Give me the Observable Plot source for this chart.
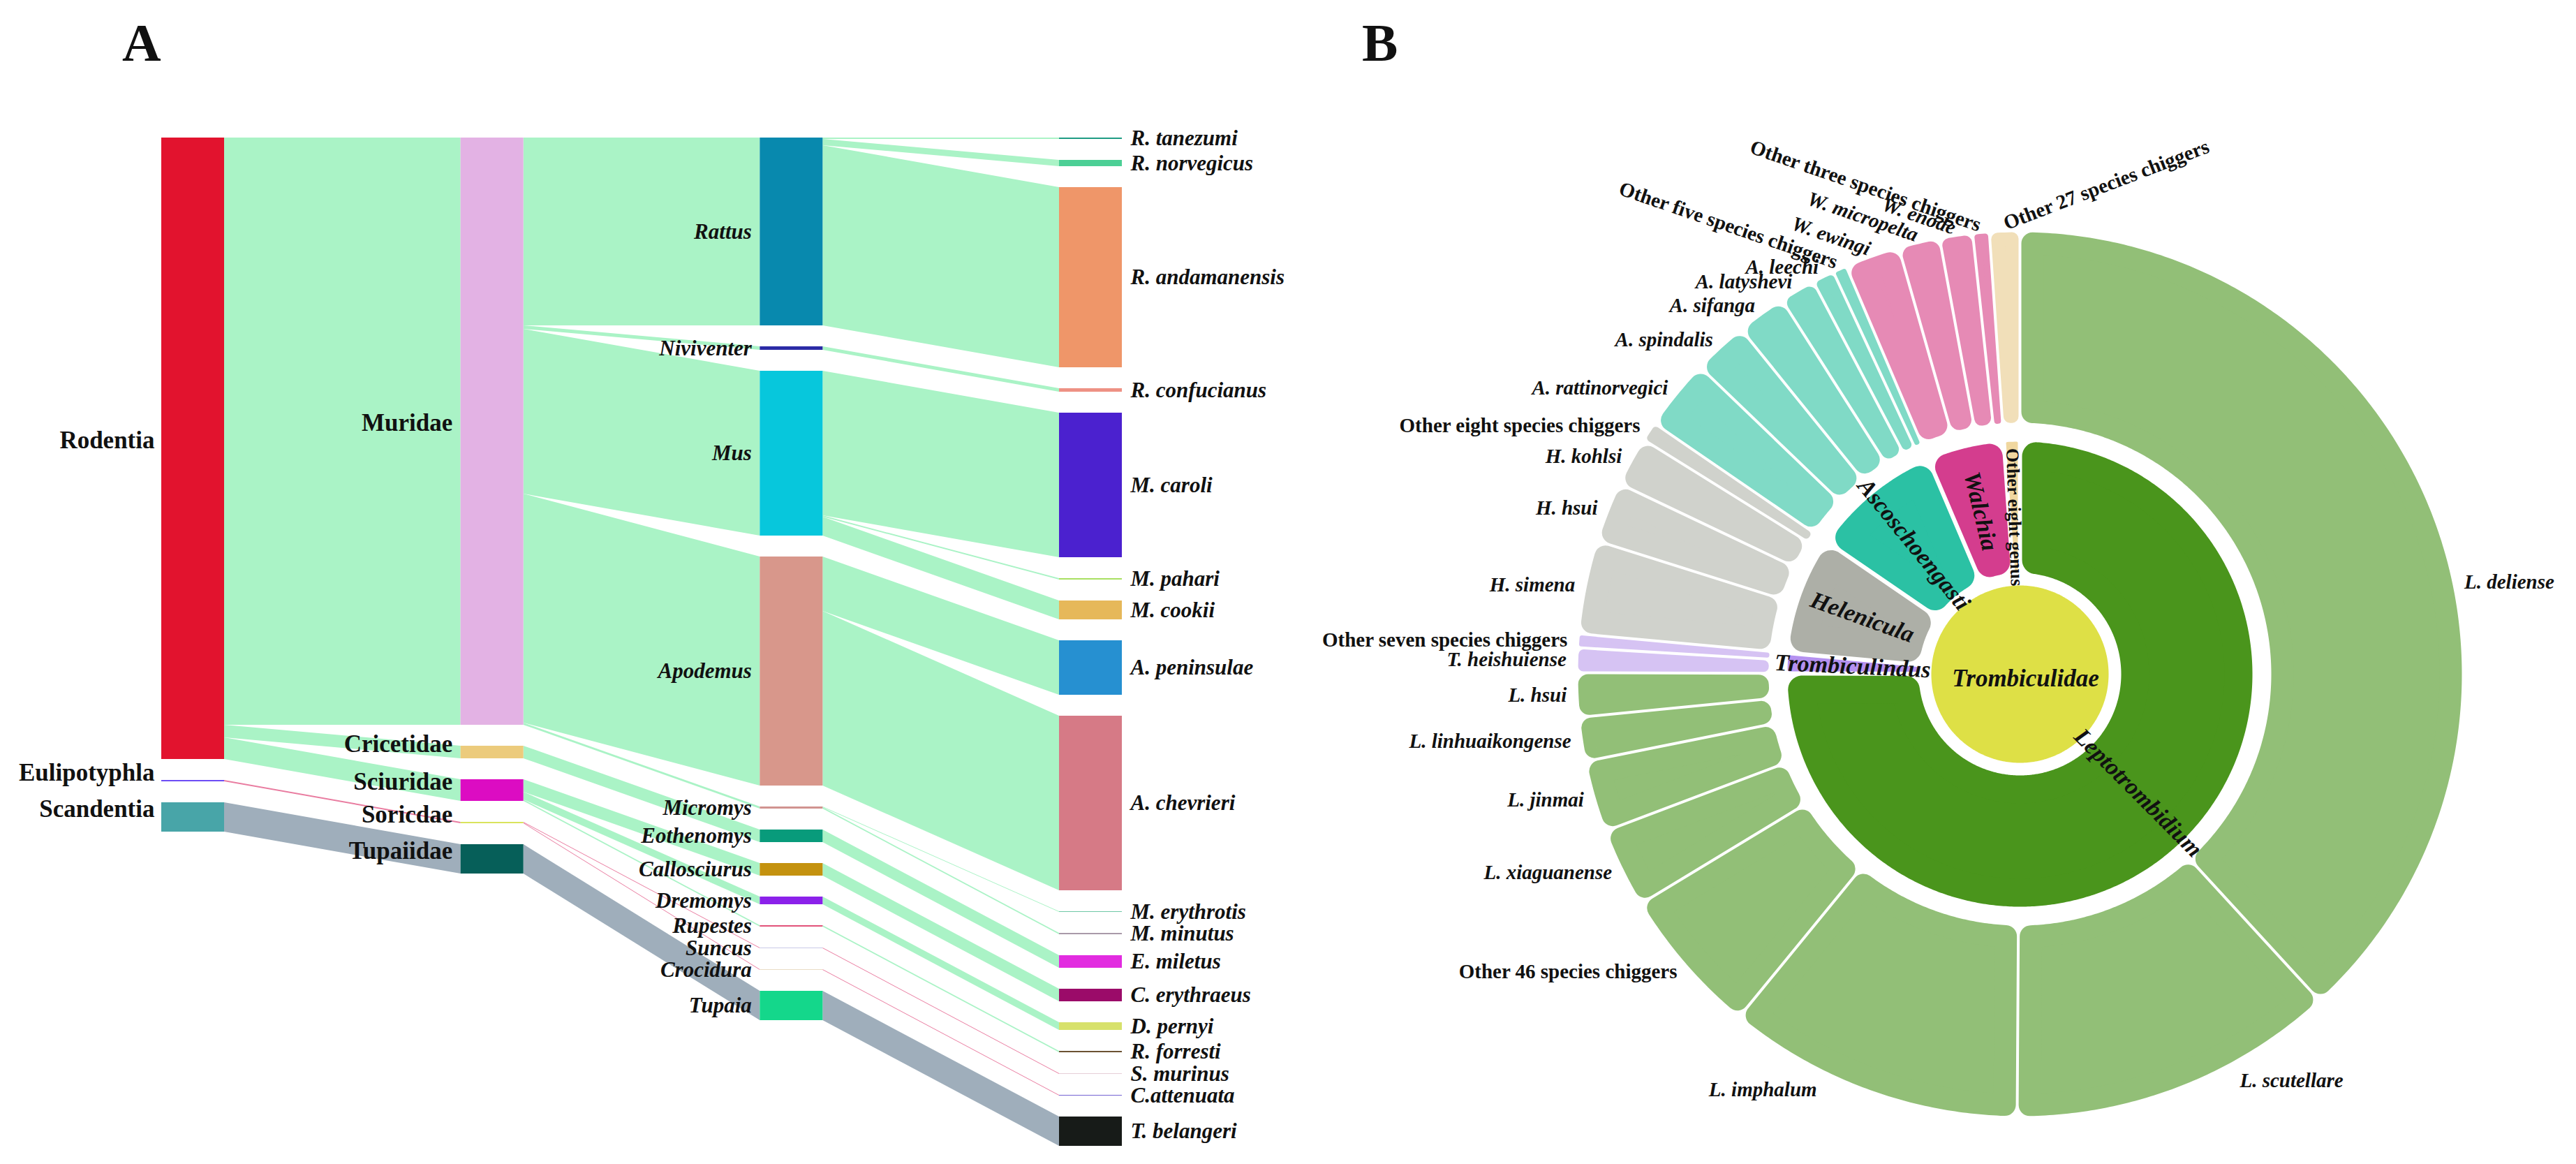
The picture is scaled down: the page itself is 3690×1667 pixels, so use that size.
<!DOCTYPE html>
<html><head><meta charset="utf-8">
<script src="https://cdn.jsdelivr.net/npm/d3@7"></script>
<script src="https://cdn.jsdelivr.net/npm/@observablehq/plot@0.6"></script>
<style>
body{margin:0;background:#fff;}
#wrap{position:relative;width:3690px;height:1667px;overflow:hidden;font-family:"Liberation Serif","Times New Roman",serif;}
.letter{position:absolute;font-weight:bold;font-size:77px;line-height:1;color:#111;}
.panel{position:absolute;top:0;}
</style></head><body>
<div id="wrap">
  <div class="letter" style="left:175px;top:23px">A</div>
  <div class="letter" style="left:1951px;top:23px">B</div>
</div>
<script>
// ================= DATA: panel A (hosts) =================
const orders = ["Rodentia","Eulipotyphla","Scandentia"];
const families = ["Muridae","Cricetidae","Sciuridae","Soricdae","Tupaiidae"];
const familyOrder = ["Rodentia","Rodentia","Rodentia","Eulipotyphla","Scandentia"];
const genera = ["Rattus","Niviventer","Mus","Apodemus","Micromys","Eothenomys","Callosciurus","Dremomys","Rupestes","Suncus","Crocidura","Tupaia"];
const genusFamily = ["Muridae","Muridae","Muridae","Muridae","Muridae","Cricetidae","Sciuridae","Sciuridae","Sciuridae","Soricdae","Soricdae","Tupaiidae"];
const hostSpecies = ["R. tanezumi","R. norvegicus","R. andamanensis","R. confucianus","M. caroli","M. pahari","M. cookii","A. peninsulae","A. chevrieri","M. erythrotis","M. minutus","E. miletus","C. erythraeus","D. pernyi","R. forresti","S. murinus","C.attenuata","T. belangeri"];
const speciesGenus = ["Rattus","Rattus","Rattus","Niviventer","Mus","Mus","Mus","Apodemus","Apodemus","Micromys","Micromys","Eothenomys","Callosciurus","Dremomys","Rupestes","Suncus","Crocidura","Tupaia"];
const speciesCount = [2,9,258,5,207,2,27,78,250,1,2,18,18,11,2,1,1,42];

// ================= DATA: panel B (chiggers) =================
const chiggerGenera = ["Leptotrombidium","Trombiculindus","Helenicula","Ascoschoengasti","Walchia","Other eight genus"];
const chiggerSpecies = ["L. deliense","L. scutellare","L. imphalum","Other 46 species chiggers","L. xiaguanense","L. jinmai","L. linhuaikongense","L. hsui",
  "T. heishuiense","Other seven species chiggers",
  "H. simena","H. hsui","H. kohlsi","Other eight species chiggers",
  "A. rattinorvegici","A. spindalis","A. sifanga","A. latyshevi","A. leechi","Other five species chiggers",
  "W. ewingi","W. micropelta","W. enode","Other three species chiggers",
  "Other 27 species chiggers"];
const chiggerSpeciesGenus = ["Leptotrombidium","Leptotrombidium","Leptotrombidium","Leptotrombidium","Leptotrombidium","Leptotrombidium","Leptotrombidium","Leptotrombidium",
  "Trombiculindus","Trombiculindus",
  "Helenicula","Helenicula","Helenicula","Helenicula",
  "Ascoschoengasti","Ascoschoengasti","Ascoschoengasti","Ascoschoengasti","Ascoschoengasti","Ascoschoengasti",
  "Walchia","Walchia","Walchia","Walchia",
  "Other eight genus"];
const chiggerShare = [38.1,11.9,10.8,5.4,2.9,2.6,1.6,1.6, 0.9,0.5, 3.4,2.2,1.8,0.7, 2.6,2.0,1.8,1.3,0.8,0.5, 2.0,1.5,1.2,0.6, 1.1];
const centerLabel = "Trombiculidae";

// ================= STYLES =================
const serif = '"Liberation Serif","Times New Roman",Times,serif';
const nodeColor = {
  "Rodentia":"#e2132e","Eulipotyphla":"#6c4cf5","Scandentia":"#48a5a8",
  "Muridae":"#e3b2e4","Cricetidae":"#eccb7c","Sciuridae":"#dc0cc2","Soricdae":"#d9e45c","Tupaiidae":"#065f59",
  "Rattus":"#0889ae","Niviventer":"#2b2ba6","Mus":"#07c7dc","Apodemus":"#d8978b","Micromys":"#d19490","Eothenomys":"#089b7b",
  "Callosciurus":"#c4920f","Dremomys":"#8b21ea","Rupestes":"#e2527a","Suncus":"#c9c9e6","Crocidura":"#eadcc6","Tupaia":"#14d78b",
  "R. tanezumi":"#1e9c83","R. norvegicus":"#4ccf95","R. andamanensis":"#ef9669","R. confucianus":"#ee9184","M. caroli":"#4b21cf",
  "M. pahari":"#a9e062","M. cookii":"#e6b85a","A. peninsulae":"#2690d1","A. chevrieri":"#d67a86","M. erythrotis":"#6fc7a6",
  "M. minutus":"#a99aa9","E. miletus":"#e22ce0","C. erythraeus":"#9b0b69","D. pernyi":"#d7e16b","R. forresti":"#6b5232",
  "S. murinus":"#e6cfd7","C.attenuata":"#7363d3","T. belangeri":"#171b18"
};
const linkColor = {"Rodentia":"#aaf3c6","Eulipotyphla":"#e97ca0","Scandentia":"#9faebb"};
const genusFill = {"Leptotrombidium":"#4a951c","Trombiculindus":"#b591f0","Helenicula":"#adafa7","Ascoschoengasti":"#2bc1a4","Walchia":"#d43d8e","Other eight genus":"#f0d79f"};
const speciesFill = {"Leptotrombidium":"#92bf77","Trombiculindus":"#d6c3f3","Helenicula":"#d0d2cc","Ascoschoengasti":"#80dac6","Walchia":"#e68ab5","Other eight genus":"#f1dfb9"};
const discFill = "#dee046";

const wrap = document.getElementById("wrap");

// ================= PANEL A: Sankey =================
(function(){
  const gap = 30, barW = 90/428.667;
  const columns = [orders, families, genera, hostSpecies];
  const parentOf = new Map();
  families.forEach((f,i)=>parentOf.set(f, familyOrder[i]));
  genera.forEach((g,i)=>parentOf.set(g, genusFamily[i]));
  hostSpecies.forEach((s,i)=>parentOf.set(s, speciesGenus[i]));
  const value = new Map(hostSpecies.map((s,i)=>[s, speciesCount[i]]));
  for (const col of [genera, families, orders]) for (const n of col) value.set(n, 0);
  for (let c=3;c>=1;c--) for (const n of columns[c]) { const p=parentOf.get(n); value.set(p, value.get(p)+value.get(n)); }
  const rootOf = n => { while(parentOf.has(n)) n = parentOf.get(n); return n; };
  const nodes = [];
  columns.forEach((col,c)=>{ let y=0; col.forEach(name=>{ const v=value.get(name); nodes.push({name,c,v,y0:y,y1:y+v,ym:y+v/2,color:nodeColor[name]}); y+=v+gap; }); });
  const nodeBy = new Map(nodes.map(d=>[d.name,d]));
  const ySpan = d3.max(nodes, d=>d.y1);
  const out = new Map(), linkPts = [];
  nodes.filter(d=>d.c>0).forEach(t=>{
    const s = nodeBy.get(parentOf.get(t.name));
    const o = out.get(s.name)||0; out.set(s.name, o+t.v);
    const color = linkColor[rootOf(t.name)];
    linkPts.push({id:t.name, x:s.c+barW, ya:s.y0+o, yb:s.y0+o+t.v, color});
    linkPts.push({id:t.name, x:t.c, ya:t.y0, yb:t.y1, color});
  });
  const lab = (c, o) => Plot.text(nodes.filter(d=>d.c===c), Object.assign({
    x: d => c===3 ? d.c+barW : d.c, y:"ym", text:"name", fontFamily:serif, fontWeight:"bold", fill:"#111"}, o));
  const svg = Plot.plot({
    width:1900, height:1667, margin:0,
    style:{background:"transparent", overflow:"visible"},
    x:{domain:[0,3], range:[231,1517], axis:null},
    y:{domain:[0,ySpan], range:[197,197+ySpan], axis:null},
    color:{type:"identity"},
    marks:[
      Plot.area(linkPts, {x1:"x", y1:"ya", y2:"yb", z:"id", fill:"color", curve:"linear"}),
      Plot.rect(nodes, {x1:"c", x2:d=>d.c+barW, y1:"y0", y2:"y1", fill:"color"}),
      lab(0, {textAnchor:"end", dx:-10, dy:-12, fontSize:35}),
      lab(1, {textAnchor:"end", dx:-12, dy:-12, fontSize:35}),
      lab(2, {textAnchor:"end", dx:-12, fontSize:31, fontStyle:"italic"}),
      lab(3, {textAnchor:"start", dx:12, fontSize:31, fontStyle:"italic"})
    ]
  });
  svg.classList.add("panel"); svg.style.left = "0px";
  wrap.appendChild(svg);
})();

// ================= PANEL B: Sunburst =================
(function(){
  const R = {disc:127, g0:145, g1:333, s0:360, s1:633};
  const tot = d3.sum(chiggerShare);
  let acc = 0;
  const sp = chiggerSpecies.map((name,i)=>{ const a0=acc/tot*360; acc+=chiggerShare[i]; const a1=acc/tot*360;
    return {name, genus:chiggerSpeciesGenus[i], a0, a1, mid:(a0+a1)/2}; });
  const gen = chiggerGenera.map(g=>{ const s=sp.filter(d=>d.genus===g); const a0=s[0].a0, a1=s[s.length-1].a1; return {name:g,a0,a1,mid:(a0+a1)/2}; });
  const rad = Math.PI/180;
  const polar = (r, deg) => ({x: r*Math.sin(deg*rad), y: -r*Math.cos(deg*rad)});

  function sector(a0, a1, r0, r1, pad, c){
    const A0=a0*rad, A1=a1*rad, half=(A1-A0)/2;
    const wIn = r0*Math.sin(Math.min(half, Math.PI/2)) - pad/2;
    const ce = Math.max(0.3, Math.min(c, (r1-r0)/2-0.5, wIn*0.9));
    const d = pad/2 + ce, Ri = r0+ce, Ro = r1-ce;
    let o0=A0+Math.asin(Math.min(1,d/Ro)), o1=A1-Math.asin(Math.min(1,d/Ro));
    let i0=A0+Math.asin(Math.min(1,d/Ri)), i1=A1-Math.asin(Math.min(1,d/Ri));
    if (i1<i0){ i0=i1=(A0+A1)/2; }
    if (o1<o0){ o0=o1=(A0+A1)/2; }
    const pts=[];
    const arc=(r,f,t)=>{ const n=Math.max(1,Math.ceil(Math.abs(t-f)/(Math.PI/360))); for(let k=0;k<=n;k++){ const a=f+(t-f)*k/n; pts.push({x:r*Math.sin(a), y:-r*Math.cos(a)}); } };
    arc(Ro,o0,o1); arc(Ri,i1,i0);
    return {pts, ce};
  }
  const sectorMark = (s, fill) => Plot.line(s.pts, {x:"x", y:"y", fill, stroke:fill, strokeWidth:2*s.ce, strokeLinejoin:"round", curve:"linear-closed"});

  const marks = [];
  const disc = d3.range(0,360,1).map(a=>polar(R.disc,a));
  marks.push(Plot.line(disc, {x:"x", y:"y", fill:discFill, stroke:"none", curve:"linear-closed"}));
  gen.forEach(g=>marks.push(sectorMark(sector(g.a0,g.a1,R.g0,R.g1,6,20), genusFill[g.name])));
  sp.forEach(s=>marks.push(sectorMark(sector(s.a0,s.a1,R.s0,R.s1,4,16), speciesFill[s.genus])));

  // genus labels (radial)
  const gl = gen.map(g=>{ const r = g.name==="Other eight genus" ? 225 : 240; const p=polar(r,g.mid);
    return {...p, name:g.name, rot: g.mid<180 ? g.mid-90 : g.mid-270}; });
  marks.push(Plot.text(gl.filter(d=>d.name!=="Other eight genus"), {x:"x", y:"y", text:"name", rotate:"rot", fontFamily:serif, fontWeight:"bold", fontStyle:"italic", fontSize:34, fill:"#111"}));
  marks.push(Plot.text(gl.filter(d=>d.name==="Other eight genus"), {x:"x", y:"y", text:"name", rotate:"rot", fontFamily:serif, fontWeight:"bold", fontSize:26, fill:"#111"}));
  marks.push(Plot.text([{x:0,y:0,name:centerLabel}], {x:"x", y:"y", text:"name", dx:8, dy:6, fontFamily:serif, fontWeight:"bold", fontStyle:"italic", fontSize:35, fill:"#111"}));

  // species labels
  const group = m => m>=356 ? "topR" : m>=335 ? "topL" : m>=225 ? "left" : m>=135 ? "bottom" : "right";
  const sl = sp.map(s=>{
    const g = group(s.mid);
    let ang = s.mid, r = 650, rot = 0;
    if (g==="topL"){ r=645; rot=19; }
    if (g==="topR"){ r=645; rot=-21; }
    if (g==="right"){ ang = s.mid + (90-s.mid)*0.45; }
    if (g==="bottom"){ ang = 180 + (s.mid-180)*1.6; r = 700; }
    return {...polar(r,ang), name:s.name, g, rot, other:s.name.startsWith("Other")};
  });
  const anchor = {left:"end", topL:"end", topR:"start", right:"start", bottom:"middle"};
  for (const g of Object.keys(anchor)) for (const other of [true,false]) {
    const data = sl.filter(d=>d.g===g && d.other===other);
    if (!data.length) continue;
    marks.push(Plot.text(data, {x:"x", y:"y", text:"name", rotate:"rot", textAnchor:anchor[g], fontFamily:serif, fontWeight:"bold", fontStyle: other?"normal":"italic", fontSize:29, fill:"#111"}));
  }

  const cx = 993, cy = 965, W = 1790, H = 1667;
  const svg = Plot.plot({
    width:W, height:H, margin:0,
    style:{background:"transparent", overflow:"visible"},
    x:{domain:[-cx, W-cx], range:[0,W], axis:null},
    y:{domain:[-cy, H-cy], range:[0,H], axis:null},
    marks
  });
  svg.classList.add("panel"); svg.style.left = "1900px";
  wrap.appendChild(svg);
})();
</script>
</body></html>
